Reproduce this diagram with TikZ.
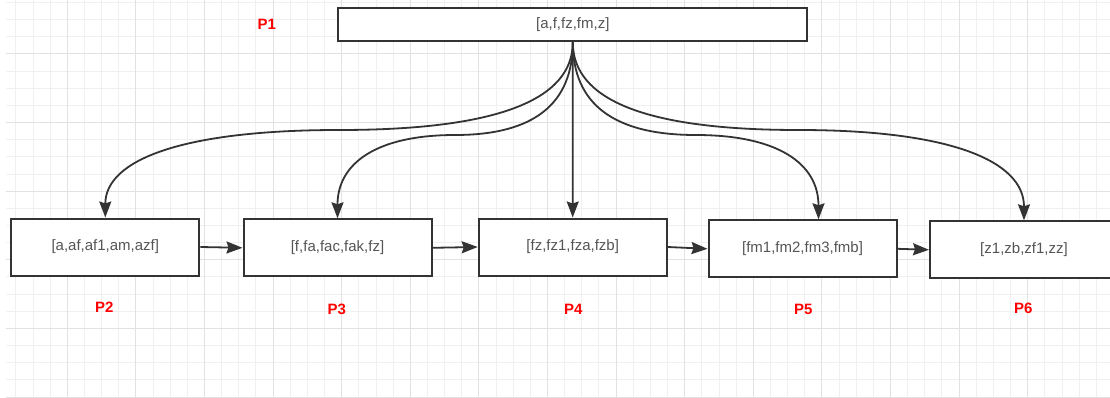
\documentclass[tikz,border=0pt]{standalone}
\usepackage{fontspec}
\setmainfont{Liberation Sans}
\usetikzlibrary{arrows.meta,calc}
\definecolor{edge}{HTML}{333333}
\definecolor{txt}{HTML}{555555}
\definecolor{gminor}{HTML}{F0F0F0}
\definecolor{gmajor}{HTML}{E2E2E2}
\definecolor{lbl}{HTML}{FF0000}
\begin{document}
\begin{tikzpicture}[x=1pt,y=-1pt,
  box/.style={draw=edge,line width=2pt,fill=white,minimum width=188pt,minimum height=57pt,inner sep=0pt,font=\fontsize{15}{18}\selectfont,text=txt},
  topbox/.style={box,minimum width=469pt,minimum height=33.6pt},
  plabel/.style={font=\fontsize{15}{17}\selectfont\bfseries,text=lbl},
  arr/.style={draw=edge,line width=1.8pt,-{Stealth[length=16pt,width=12pt,inset=2pt]}},
  gline/.style={gminor,line width=1pt},
  gline2/.style={gmajor,line width=1pt}]
\path[fill=white] (0,0) rectangle (1110,398);
\useasboundingbox (0,0) rectangle (1110,398);
\begin{scope}
\clip (6,0) rectangle (1110,398);
\foreach \i in {-3,...,60} \draw[gline] ({67.3+17.15*\i},0) -- ({67.3+17.15*\i},398);
\foreach \i in {-3,...,20} \draw[gline] (6,{54+17.15*\i}) -- (1110,{54+17.15*\i});
\foreach \i in {0,4,...,56} \draw[gline2] ({67.3+17.15*\i},0) -- ({67.3+17.15*\i},398);
\foreach \i in {0,4,...,20} \draw[gline2] (6,{54+17.15*\i}) -- (1110,{54+17.15*\i});
\end{scope}

\node[topbox] (P1) at (572.8,24.5) {[a,f,fz,fm,z]};
\node[box] (P2) at (105.3,247) {[a,af,af1,am,azf]};
\node[box] (P3) at (337.5,247.8) {[f,fa,fac,fak,fz]};
\node[box] (P4) at (572.7,247) {[fz,fz1,fza,fzb]};
\node[box] (P5) at (802.5,248.8) {[fm1,fm2,fm3,fmb]};
\node[box] (P6) at (1024,249.8) {[z1,zb,zf1,zz]};

\node[plabel] (L1) at (266.7,24.3) {P1};
\node[plabel] (L2) at (104.3,307.3) {P2};
\node[plabel] (L3) at (336.7,309.3) {P3};
\node[plabel] (L4) at (573.3,309.3) {P4};
\node[plabel] (L5) at (803.3,309.3) {P5};
\node[plabel] (L6) at (1023.3,308.3) {P6};

\coordinate (P5t) at ([xshift=16pt]P5.north);

\draw[arr] (P2.east) -- (P3.west);
\draw[arr] (P3.east) -- (P4.west);
\draw[arr] (P4.east) -- (P5.west);
\draw[arr] (P5.east) -- (P6.west);

\draw[arr] (P1.south) -- (P4.north);
\draw[arr] (P1.south) .. controls (572.8,100.8) and (494.9,130) .. (339.05,130)
  .. controls (183.2,130) and (105.3,159.5) .. (P2.north);
\draw[arr] (P1.south) .. controls (572.8,104.1) and (533.6,135) .. (455.15,135)
  .. controls (376.7,135) and (337.5,163.1) .. (P3.north);
\draw[arr] (P1.south) .. controls (572.8,104.1) and (613.75,135) .. (695.65,135)
  .. controls (777.55,135) and (818.5,163.4) .. (P5t);
\draw[arr] (P1.south) .. controls (572.8,100.8) and (648.0,130) .. (798.4,130)
  .. controls (948.8,130) and (1024,160.4) .. (P6.north);
\end{tikzpicture}
\end{document}
